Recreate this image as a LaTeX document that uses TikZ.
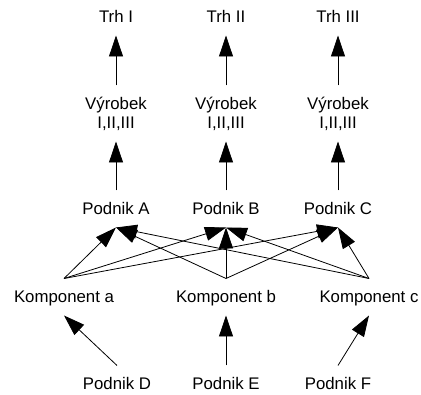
\documentclass[tikz,border=0pt]{standalone}
\usepackage{fontspec}
\setmainfont{Liberation Sans}
\usetikzlibrary{arrows.meta}
\tikzset{
txt/.style={font=\fontsize{16.8}{19}\selectfont,inner sep=0pt,outer ysep=12.5pt},
one/.style={txt,text height=12pt,text depth=0pt},
arr/.style={line width=0.8pt,-{Triangle[length=21pt,width=14pt]}}
}
\begin{document}
\begin{tikzpicture}[x=1pt,y=-1pt]
\useasboundingbox (0,0) rectangle (421,395);
% trh, vyrobek, podnik
\foreach \k/\kx/\kr/\kl in {1/116/I/A,2/226/II/B,3/338/III/C}{
\node[one,anchor=base](trh\k) at (\kx,23){Trh \kr};
\node[txt,align=center,anchor=base,text height=31pt,text depth=0pt](vyr\k) at (\kx,129){Výrobek\\I,II,III};
\node[one,anchor=base](pod\k) at (\kx,215){Podnik \kl};
\draw[arr](vyr\k.north) -- (trh\k.south);
\draw[arr](pod\k.north) -- (vyr\k.south);
}
% komponenty a dodavatele
\foreach \k/\kx/\kl/\kd/\dx in {1/64/a/D/117,2/226/b/E/226,3/369/c/F/338}{
\node[one,anchor=base](kom\k) at (\kx,303){Komponent \kl};
\node[one,anchor=base](dod\k) at (\dx,390){Podnik \kd};
\draw[arr](dod\k.north) -- (kom\k.south);
}
\foreach \i in {1,2,3}{\foreach \j in {1,2,3}{\draw[arr](kom\i.north) -- (pod\j.south);}}
\end{tikzpicture}
\end{document}
